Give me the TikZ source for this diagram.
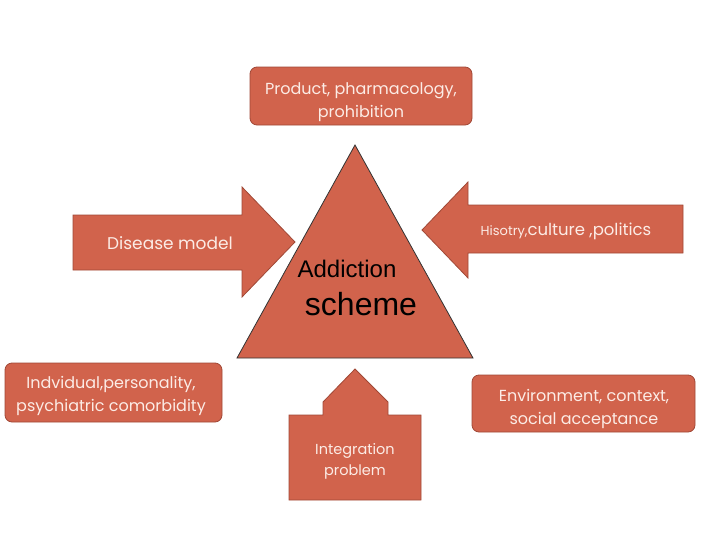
\documentclass[tikz,border=0pt]{standalone}
\usepackage{fontspec}
\setmainfont{Poppins}
\newfontfamily\arialfont{Liberation Sans}
\definecolor{brick}{RGB}{209,99,76}
\definecolor{brickline}{RGB}{160,72,54}
\definecolor{paletext}{RGB}{252,236,230}

\begin{document}
\begin{tikzpicture}[x = 1pt, y = -1pt]
\tikzstyle{shapeStyle} = [fill = brick, draw = brickline, line width = 0.8pt]
\tikzstyle{boxStyle} = [shapeStyle, rounded corners = 7pt]
\tikzstyle{textStyle} = [text = paletext, align = center, font = \fontsize{16}{23}\selectfont, inner sep = 0pt]
\useasboundingbox (0,0) rectangle (728,546);
\draw[boxStyle] (250,67) rectangle (472,125);
\node[textStyle] (product) at (361,102) {Product, pharmacology,\\prohibition};
\draw[shapeStyle] (73,215) -- (242,215) -- (242,187) -- (295,242) -- (242,297) -- (242,270) -- (73,270) -- cycle;
\node[textStyle, font = \fontsize{17}{20}\selectfont] (disease) at (170,243) {Disease model};
\draw[shapeStyle] (683,205) -- (468,205) -- (468,182) -- (422,230) -- (468,278) -- (468,253) -- (683,253) -- cycle;
\node[textStyle, font = \fontsize{16.5}{20}\selectfont] (history) at (566,231) {{\fontsize{13}{14}\selectfont Hisotry,}culture ,politics};
\draw[fill = brick, draw = black!80, line width = 0.8pt] (355,145) -- (473,358) -- (237,358) -- cycle;
\node[font = \arialfont\fontsize{24}{26}\selectfont, inner sep = 0pt] (addiction) at (347,269) {Addiction};
\node[font = \arialfont\fontsize{32}{34}\selectfont, inner sep = 0pt] (scheme) at (361,304) {scheme};
\draw[boxStyle] (5,363) rectangle (222,422);
\node[textStyle] (individual) at (111,396) {Indvidual,personality,\\psychiatric comorbidity};
\draw[boxStyle] (472,375) rectangle (695,432);
\node[textStyle] (environment) at (584,409) {Environment, context,\\social acceptance};
\draw[shapeStyle] (355,369) -- (388,402) -- (388,415) -- (421,415) -- (421,500) -- (289,500) -- (289,415) -- (323,415) -- (323,402) -- cycle;
\node[textStyle, font = \fontsize{14.5}{21}\selectfont] (integration) at (355,461) {Integration\\problem};
\end{tikzpicture}
\end{document}
